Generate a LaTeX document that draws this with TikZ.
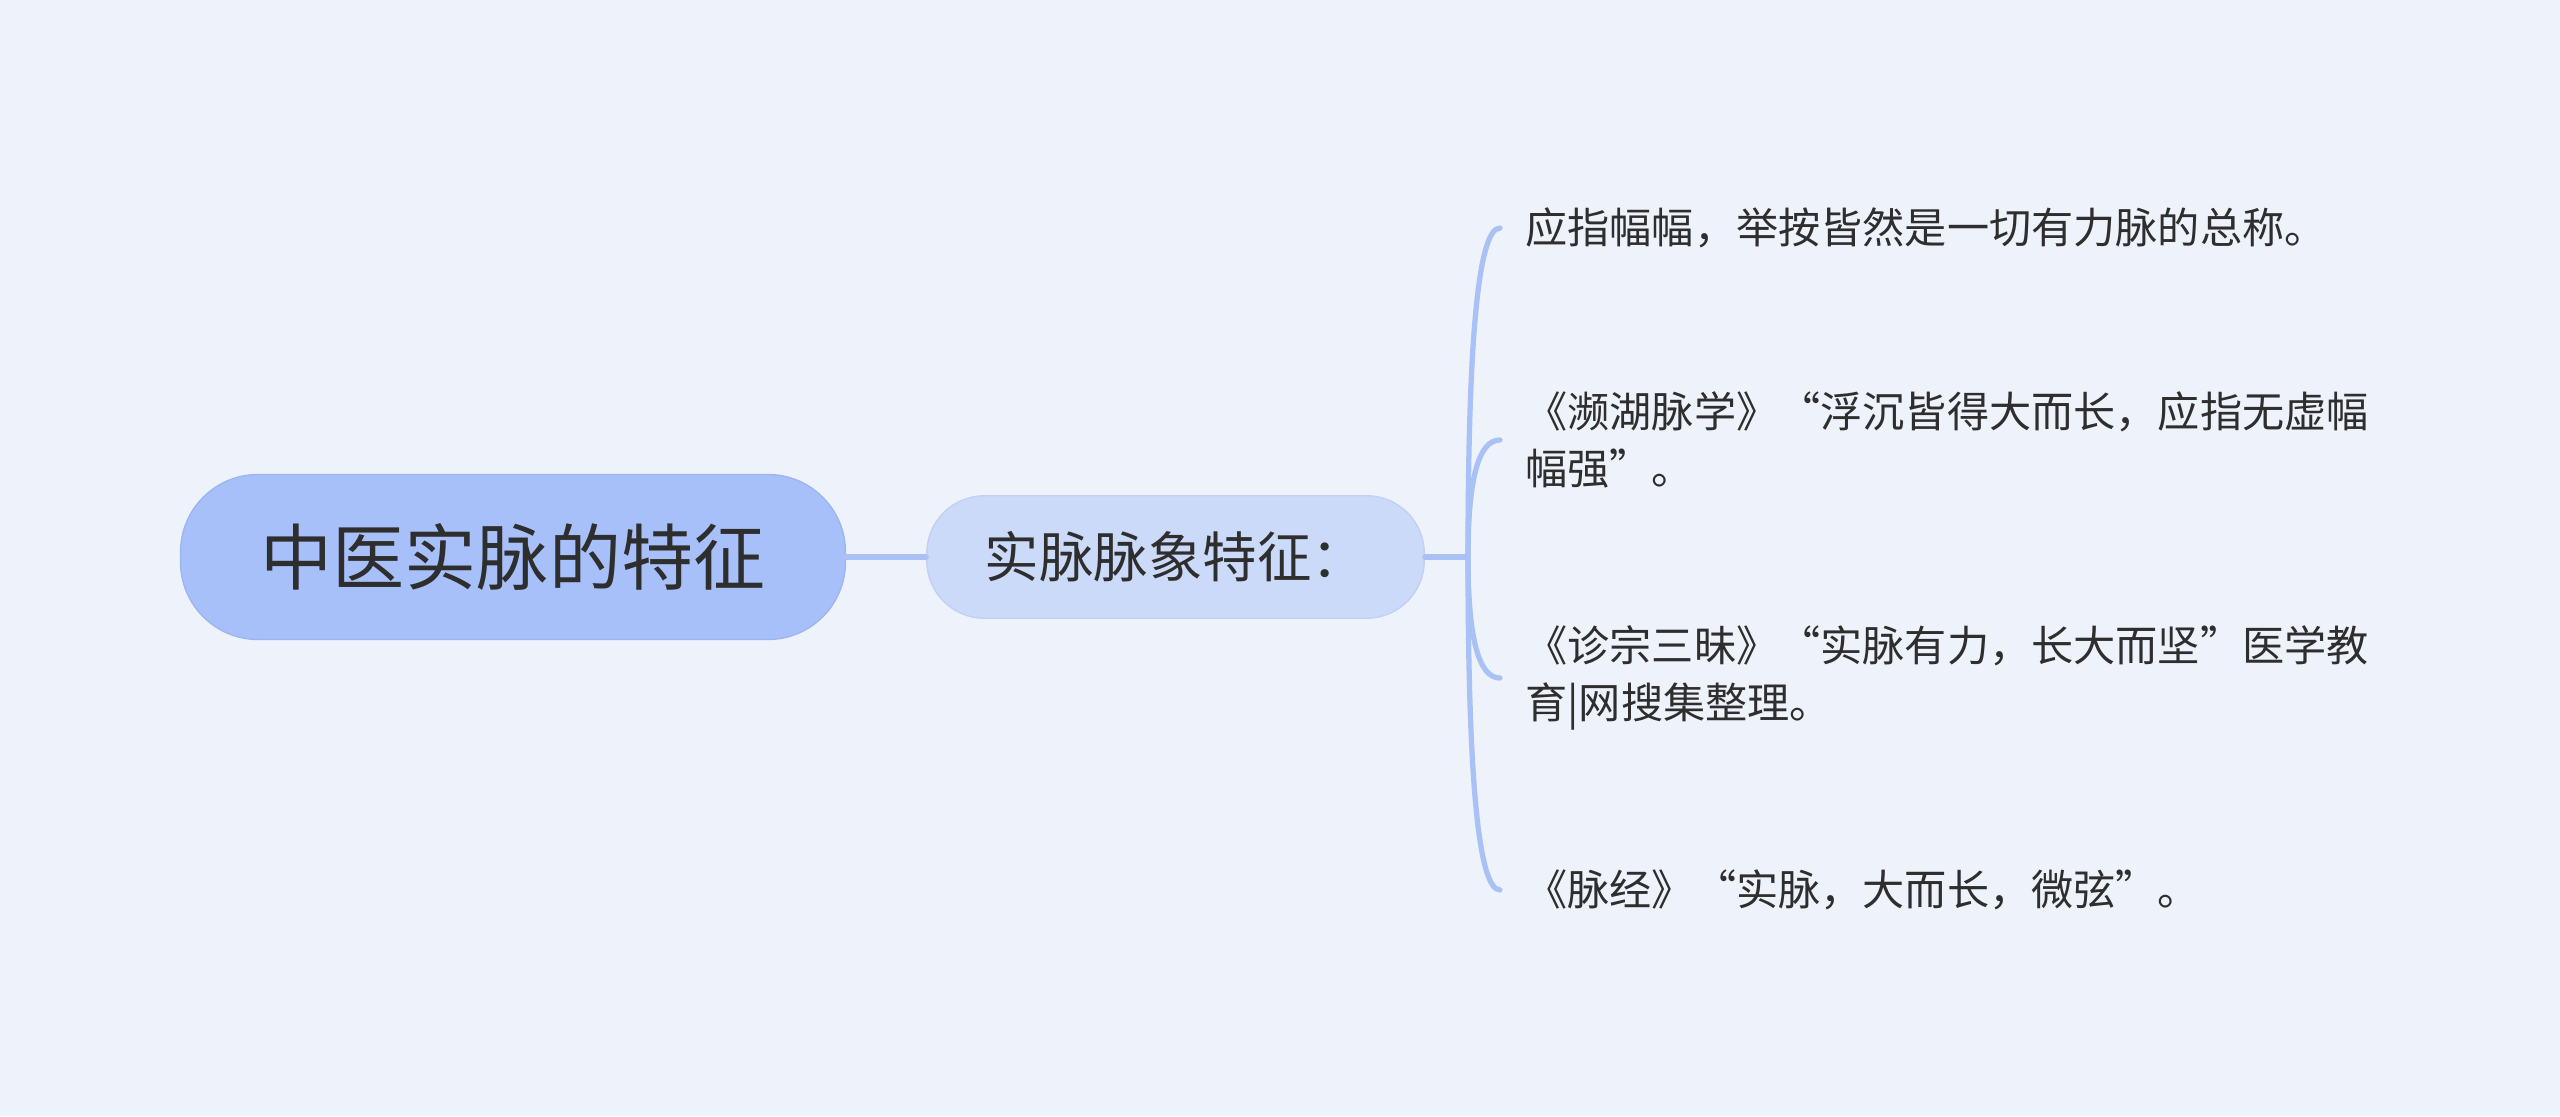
\documentclass[tikz,border=0pt]{standalone}
\usepackage{fontspec}
\setmainfont{Noto Sans CJK SC}
\usetikzlibrary{positioning,calc}

\definecolor{bgcol}{HTML}{EEF2FB}
\definecolor{rootcol}{HTML}{A8C0F9}
\definecolor{rootline}{HTML}{9DB6F2}
\definecolor{subcol}{HTML}{CCDAF9}
\definecolor{subline}{HTML}{C0D1F6}
\definecolor{linecol}{HTML}{A9C1F5}
\definecolor{txtcol}{HTML}{2E2E2E}

\begin{document}
\begin{tikzpicture}[x=0.02cm, y=-0.02cm,
    rootbox/.style={draw=rootline, fill=rootcol, line width=0.8pt, rounded corners=1.55cm,
        minimum width=13.3cm, minimum height=3.3cm, text=txtcol, font=\fontsize{41}{48}\selectfont},
    subbox/.style={draw=subline, fill=subcol, line width=0.8pt, rounded corners=1.15cm,
        minimum width=9.95cm, minimum height=2.45cm, text=txtcol, font=\fontsize{31}{38}\selectfont},
    leaf/.style={anchor=west, align=left, inner xsep=0.5cm, inner ysep=0pt,
        text=txtcol, font=\fontsize{24}{32}\selectfont},
    branch/.style={draw=linecol, line width=3pt, line cap=round}]

    % background
    \fill[bgcol] (0,0) rectangle (2560,1116);

    % root and subtopic
    \node[rootbox] (root) at (513,557) {中医实脉的特征};
    \node[subbox, right=1.6cm of root] (sub) {实脉脉象特征：};
    \coordinate (j) at (1468,557);

    % leaves
    \node[leaf] (l1) at (1500,228) {应指幅幅，举按皆然是一切有力脉的总称。};
    \node[leaf] (l2) at (1500,440) {《濒湖脉学》“浮沉皆得大而长，应指无虚幅\\幅强”。};
    \node[leaf] (l3) at (1500,678) {《诊宗三昧》“实脉有力，长大而坚”医学教\\育|网搜集整理。};
    \node[leaf] (l4) at (1500,890) {《脉经》“实脉，大而长，微弦”。};

    % connectors
    \draw[branch] (root) -- (sub);
    \draw[branch] (sub) -- (j);
    \foreach \l in {l1,l2,l3,l4}
        \draw[branch] (j) .. controls ($(j)!.67!(j |- \l.west)$) and ($(\l.west)!.67!(j |- \l.west)$) .. (\l.west);

\end{tikzpicture}
\end{document}
